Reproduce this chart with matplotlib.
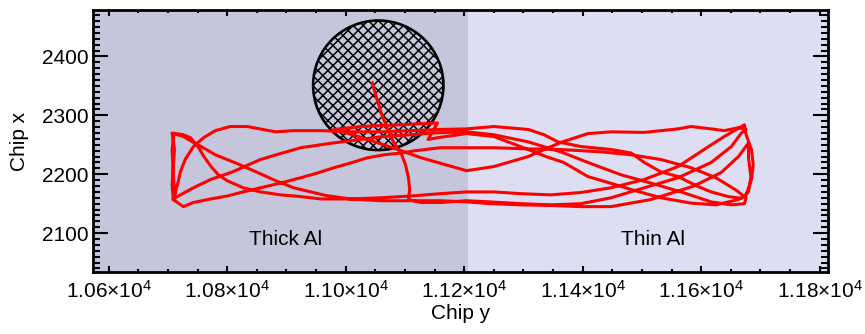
import numpy as np
import matplotlib.pyplot as plt
from matplotlib.patches import Circle
from matplotlib.ticker import MultipleLocator, FuncFormatter

plt.rcParams['font.family'] = ['Liberation Sans', 'DejaVu Sans']
plt.rcParams['mathtext.fontset'] = 'custom'
plt.rcParams['mathtext.rm'] = 'Liberation Sans'
plt.rcParams['mathtext.it'] = 'Liberation Sans'

# axis ranges
xlim = [10574, 11815]
ylim = [2034, 2478]

# filter regions (chip y)
filter_edge = 11206
filter_names = ['Thick Al', 'Thin Al']
filter_label_x = [10898, 11519]
filter_label_y = 2089

# aperture circle
circ_x, circ_y, circ_r = 11055, 2351, 110

# pointing path (chip y, chip x) in order
# slew from aperture centre, along the bottom, up to the top right
seg1_x = [11045, 11052, 11061, 11071, 11081, 11093, 11101, 11106, 11108, 11106, 11127, 11160, 11204,
          11245, 11296, 11346, 11397, 11448, 11504, 11561, 11617, 11651, 11668, 11676]
seg1_y = [2355, 2330, 2301, 2276, 2254, 2237, 2216, 2194, 2174, 2157, 2152, 2152, 2155,
          2153, 2150, 2148, 2150, 2160, 2177, 2194, 2220, 2247, 2270, 2276]
# top line back to the left, the kink near the aperture, then right again to the top right corner
seg2_x = [11663, 11639, 11617, 11583, 11561, 11504, 11448, 11409, 11363, 11308, 11250, 11204, 11169,
          11127, 11088, 11025, 10980, 11025, 11093, 11155, 11139, 11155, 11204, 11250, 11308, 11338,
          11368, 11409, 11443, 11482, 11532, 11583, 11625, 11663, 11676, 11685, 11688, 11685, 11676, 11673]
seg2_y = [2279, 2274, 2277, 2281, 2277, 2271, 2272, 2269, 2254, 2230, 2213, 2206, 2216,
          2228, 2242, 2263, 2276, 2281, 2284, 2287, 2259, 2262, 2269, 2264, 2242, 2230,
          2220, 2196, 2186, 2174, 2160, 2151, 2148, 2157, 2165, 2191, 2216, 2242, 2267, 2284]
# down-left to the top left corner, left edge, steep arc, along the top, down to bottom right
seg3_x = [11639, 11605, 11561, 11504, 11448, 11397, 11346, 11296, 11250, 11204, 11160, 11110, 11059,
          11008, 10958, 10924, 10890, 10856, 10827, 10800, 10785, 10772, 10760, 10750, 10738, 10726,
          10707, 10711, 10709, 10707, 10709, 10716, 10721, 10729, 10743, 10760, 10780, 10805, 10834,
          10860, 10882, 10912, 10958, 11008, 11059, 11110, 11160, 11204, 11250, 11308, 11335, 11358,
          11397, 11448, 11482, 11504, 11532, 11561, 11595, 11617, 11646, 11668]
seg3_y = [2264, 2242, 2213, 2191, 2177, 2169, 2165, 2167, 2170, 2170, 2167, 2163, 2160,
          2158, 2158, 2162, 2165, 2170, 2177, 2189, 2199, 2214, 2231, 2248, 2262, 2267,
          2270, 2242, 2213, 2182, 2157, 2182, 2204, 2225, 2247, 2262, 2274, 2281, 2281,
          2276, 2272, 2274, 2274, 2272, 2272, 2274, 2276, 2277, 2281, 2276, 2267, 2255,
          2247, 2242, 2236, 2220, 2204, 2196, 2179, 2170, 2162, 2159]
# right turn, down-left to the bottom, along the bottom and up to the left
seg4_x = [11680, 11684, 11680, 11680, 11663, 11634, 11588, 11515, 11448, 11397, 11346, 11296, 11245,
          11204, 11160, 11110, 11059, 11008, 10966, 10941, 10912, 10882, 10851, 10817, 10780, 10763,
          10743, 10726, 10710]
seg4_y = [2170, 2196, 2228, 2253, 2230, 2203, 2180, 2157, 2145, 2145, 2147, 2148, 2150,
          2153, 2155, 2155, 2155, 2158, 2164, 2170, 2177, 2189, 2203, 2218, 2233, 2243,
          2254, 2264, 2269]
# left turn, long rising diagonal, over to the right, and back along the lower middle
seg5_x = [10707, 10709, 10712, 10743, 10772, 10809, 10856, 10893, 10924, 10978, 11025, 11062, 11110,
          11147, 11204, 11250, 11308, 11363, 11414, 11465, 11515, 11566, 11617, 11651, 11673, 11676,
          11659, 11625, 11583, 11532, 11482, 11431, 11363, 11308, 11250, 11204, 11160, 11118, 11093,
          11065, 11037, 11008, 10980, 10952, 10924, 10890, 10856, 10827, 10800, 10772, 10743, 10726, 10709]
seg5_y = [2242, 2199, 2160, 2177, 2191, 2204, 2225, 2236, 2245, 2253, 2259, 2264, 2267,
          2270, 2272, 2267, 2255, 2238, 2218, 2199, 2185, 2170, 2153, 2148, 2150, 2160,
          2173, 2194, 2211, 2225, 2233, 2238, 2242, 2243, 2245, 2245, 2245, 2240, 2236,
          2233, 2228, 2219, 2211, 2202, 2194, 2185, 2177, 2170, 2163, 2158, 2152, 2145, 2157]

path_x = seg1_x + seg2_x + seg3_x + seg4_x + seg5_x
path_y = seg1_y + seg2_y + seg3_y + seg4_y + seg5_y


def sci_fmt(v, pos):
    return r'%.2f$\times$10$^{4}$' % (v / 1e4)


fig = plt.figure(figsize=(8.65, 3.34), dpi=100)
ax = fig.add_axes([0.1079, 0.1856, 0.8499, 0.7830])

ax.axvspan(xlim[0], filter_edge, color='#c5c6db', lw=0, zorder=0)
ax.axvspan(filter_edge, xlim[1], color='#dddef2', lw=0, zorder=0)

circ = Circle((circ_x, circ_y), circ_r, fc='none', ec='black', lw=1.9, zorder=2)
ax.add_patch(circ)
# cross hatch inside the aperture
step = 17
for c in np.arange(-400, 400, step):
    for sgn in [1, -1]:
        xs = np.array([circ_x - circ_r - 5, circ_x + circ_r + 5])
        ys = circ_y + c + sgn * (xs - circ_x)
        ln, = ax.plot(xs, ys, color='black', lw=1.1, zorder=1)
        ln.set_clip_path(circ)

ax.plot(path_x, path_y, color='red', lw=2.2, zorder=3, solid_joinstyle='round')

for name, lx in zip(filter_names, filter_label_x):
    ax.text(lx, filter_label_y, name, ha='center', va='center', fontsize=15)

ax.set_xlim(xlim)
ax.set_ylim(ylim)
ax.xaxis.set_major_locator(MultipleLocator(200))
ax.xaxis.set_minor_locator(MultipleLocator(50))
ax.yaxis.set_major_locator(MultipleLocator(100))
ax.yaxis.set_minor_locator(MultipleLocator(10))
ax.xaxis.set_major_formatter(FuncFormatter(sci_fmt))
ax.tick_params(axis='both', which='both', direction='in', top=True, right=True,
               labelsize=15, width=1.5, color='black')
ax.tick_params(axis='x', which='major', length=4)
ax.tick_params(axis='x', which='minor', length=2.2)
ax.tick_params(axis='y', which='major', length=10.5)
ax.tick_params(axis='y', which='minor', length=5)
ax.tick_params(axis='x', pad=6)
for s in ax.spines.values():
    s.set_linewidth(2)
ax.set_xlabel('Chip y', fontsize=15, labelpad=1)
ax.set_ylabel('Chip x', fontsize=15, labelpad=9)

fig.savefig('out.png', dpi=100)
